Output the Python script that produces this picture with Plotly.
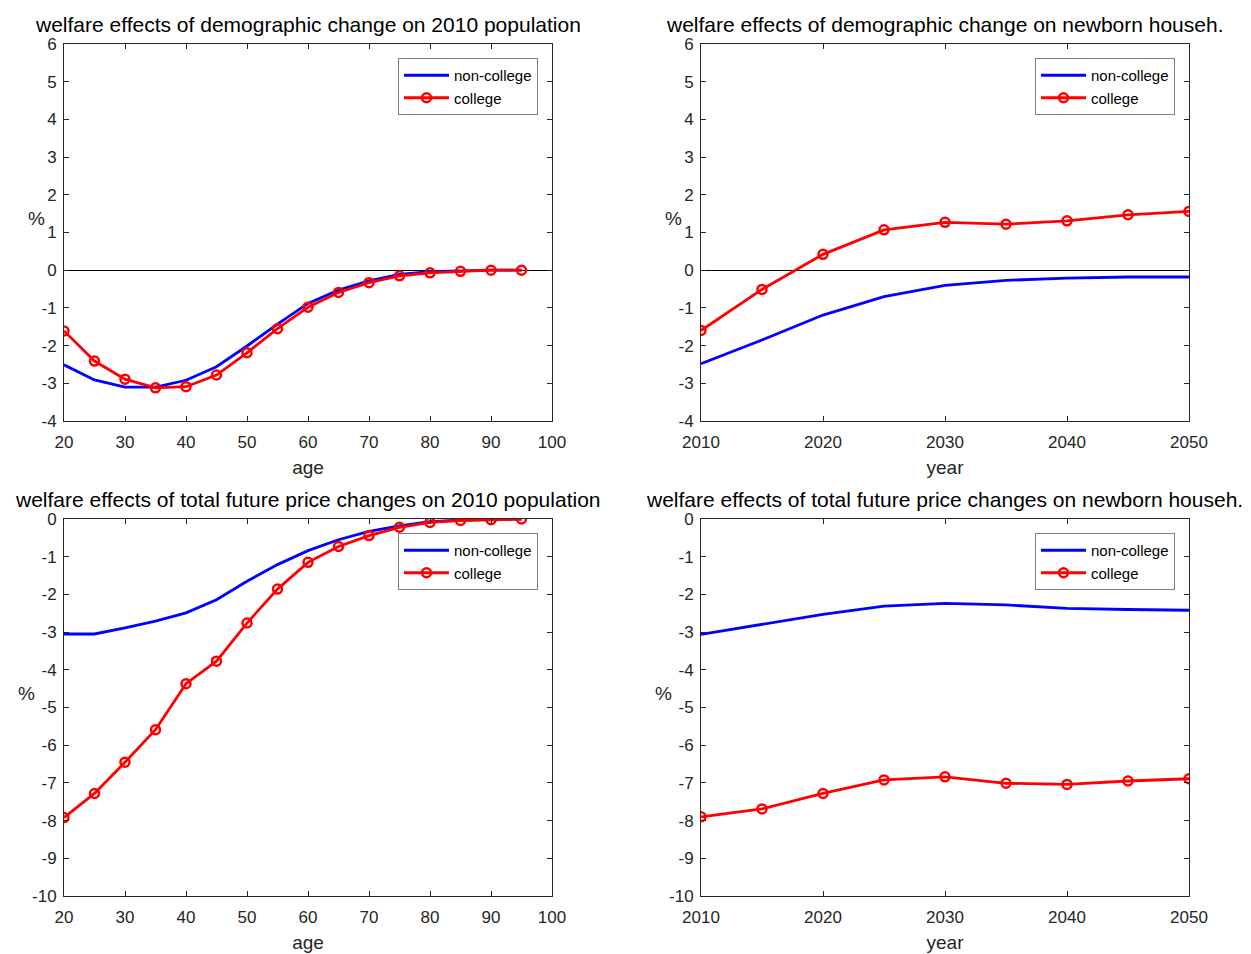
import plotly.graph_objects as go

# x values
ages = [20, 25, 30, 35, 40, 45, 50, 55, 60, 65, 70, 75, 80, 85, 90, 95]
years = [2010, 2015, 2020, 2025, 2030, 2035, 2040, 2045, 2050]

# demographic change, 2010 population (by age)
demo_pop_noncollege = [-2.51, -2.91, -3.10, -3.10, -2.92, -2.56, -2.01, -1.43,
                       -0.88, -0.53, -0.28, -0.11, -0.04, -0.01, 0.0, 0.0]
demo_pop_college = [-1.61, -2.41, -2.89, -3.12, -3.09, -2.78, -2.19, -1.55,
                    -0.98, -0.59, -0.33, -0.15, -0.07, -0.03, 0.0, 0.0]

# demographic change, newborn households (by year)
demo_new_noncollege = [-2.48, -1.85, -1.19, -0.70, -0.40, -0.27, -0.21, -0.18, -0.18]
demo_new_college = [-1.60, -0.51, 0.42, 1.07, 1.27, 1.22, 1.31, 1.47, 1.56]

# total future price changes, 2010 population (by age)
price_pop_noncollege = [-3.05, -3.05, -2.89, -2.71, -2.49, -2.14, -1.65, -1.21,
                        -0.84, -0.55, -0.33, -0.18, -0.07, -0.03, -0.01, 0.0]
price_pop_college = [-7.92, -7.28, -6.45, -5.59, -4.37, -3.77, -2.76, -1.86,
                     -1.15, -0.73, -0.44, -0.22, -0.09, -0.04, -0.02, 0.0]

# total future price changes, newborn households (by year)
price_new_noncollege = [-3.06, -2.80, -2.53, -2.31, -2.24, -2.28, -2.37, -2.40, -2.42]
price_new_college = [-7.90, -7.69, -7.28, -6.92, -6.84, -7.01, -7.04, -6.95, -6.89]

titles = [
    "welfare effects of demographic change on 2010 population",
    "welfare effects of demographic change on newborn househ.",
    "welfare effects of total future price changes on 2010 population",
    "welfare effects of total future price changes on newborn househ.",
]

# the page body has an 8px margin, so the figure sits at (8, 8)
OFF = 8
W, H = 1251 - OFF, 954 - OFF
FONT = "Liberation Sans, Arial, Helvetica, sans-serif"
AXC = "#262626"


def px_x(p):
    return (p - OFF) / W


def px_y(p):
    return 1 - (p - OFF) / H


def int_ticks(lo, hi, step):
    vals = list(range(lo, hi + 1, step))
    return vals, [str(v) for v in vals]  # plain hyphen minus like MATLAB


# plot boxes in screen pixels: (left, right, top, bottom)
boxes = [(64, 552, 44, 421), (701, 1189, 44, 421),
         (64, 552, 519, 896), (701, 1189, 519, 896)]

panels = [
    (ages, demo_pop_noncollege, demo_pop_college, [20, 100], [-4, 6], "age"),
    (years, demo_new_noncollege, demo_new_college, [2010, 2050], [-4, 6], "year"),
    (ages, price_pop_noncollege, price_pop_college, [20, 100], [-10, 0], "age"),
    (years, price_new_noncollege, price_new_college, [2010, 2050], [-10, 0], "year"),
]

fig = go.Figure()
annotations = []
layout = {}
pct_x = [36, 673, 26, 663]

for i, (xs, nc, c, xr, yr, xlab) in enumerate(panels):
    n = i + 1
    xa = "x" if n == 1 else f"x{n}"
    ya = "y" if n == 1 else f"y{n}"
    leg = "legend" if n == 1 else f"legend{n}"
    left, right, top, bottom = boxes[i]

    fig.add_trace(go.Scatter(x=xs, y=nc, mode="lines", name="non-college",
                             line=dict(color="#0000ff", width=2.8),
                             xaxis=xa, yaxis=ya, legend=leg))
    fig.add_trace(go.Scatter(x=xs, y=c, mode="lines+markers", name="college",
                             line=dict(color="#ff0000", width=2.8),
                             marker=dict(symbol="circle-open", size=9,
                                         color="#ff0000", line=dict(width=2.5)),
                             xaxis=xa, yaxis=ya, legend=leg))

    ax_common = dict(showgrid=False, ticks="inside", ticklen=5, tickcolor=AXC,
                     showline=True, linecolor=AXC, linewidth=1, mirror="ticks",
                     automargin=False,
                     tickfont=dict(family=FONT, size=17, color=AXC))
    xv, xt = int_ticks(xr[0], xr[1], 10)
    yv, yt = int_ticks(yr[0], yr[1], 1)
    layout["xaxis" if n == 1 else f"xaxis{n}"] = dict(
        ax_common, domain=[px_x(left), px_x(right)], range=xr,
        tickmode="array", tickvals=xv, ticktext=xt, ticklabelstandoff=6,
        zeroline=False, anchor=ya,
        title=dict(text=xlab, font=dict(family=FONT, size=19, color=AXC), standoff=9))
    layout["yaxis" if n == 1 else f"yaxis{n}"] = dict(
        ax_common, domain=[px_y(bottom), px_y(top)], range=yr,
        tickmode="array", tickvals=yv, ticktext=yt, ticklabelstandoff=3,
        zeroline=(yr[1] > 0), zerolinecolor="black", zerolinewidth=1, anchor=xa)

    layout[leg] = dict(
        x=px_x(right - 14), xanchor="right", y=px_y(top + 14), yanchor="top",
        bgcolor="white", bordercolor="#7f7f7f", borderwidth=1,
        font=dict(family=FONT, size=15, color="black"),
        tracegroupgap=0, itemwidth=45)

    annotations.append(dict(
        text=titles[i], xref="paper", yref="paper",
        x=px_x((left + right) / 2), y=px_y(top - 6), xanchor="center", yanchor="bottom",
        showarrow=False, font=dict(family=FONT, size=21, color="black")))
    annotations.append(dict(
        text="%", xref="paper", yref="paper",
        x=px_x(pct_x[i]), y=px_y((top + bottom) / 2 - 14), xanchor="center",
        yanchor="middle", showarrow=False,
        font=dict(family=FONT, size=19, color=AXC)))

fig.update_layout(
    width=W, height=H,
    margin=dict(l=0, r=0, t=0, b=0),
    paper_bgcolor="white", plot_bgcolor="white",
    showlegend=True,
    annotations=annotations,
    **layout,
)

fig.write_html("out.html")
